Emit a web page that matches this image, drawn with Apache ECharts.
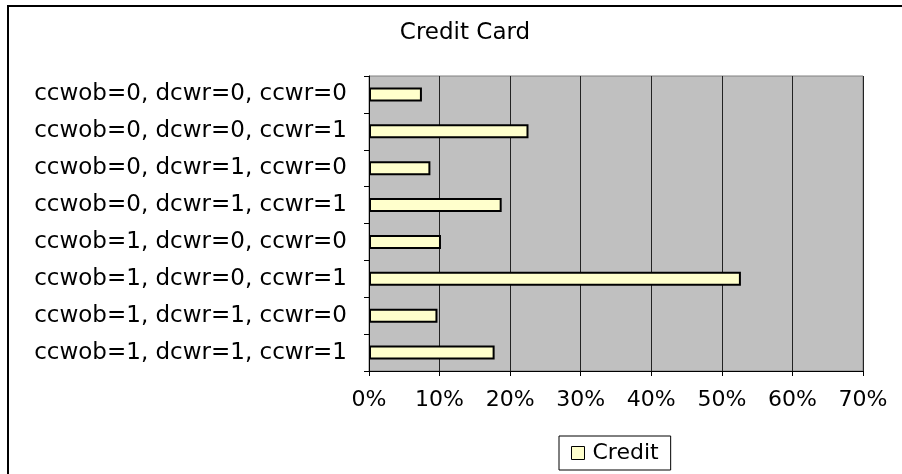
<!DOCTYPE html>
<html>
<head>
<meta charset="utf-8">
<script src="https://cdn.jsdelivr.net/npm/echarts@6/dist/echarts.min.js"></script>
<style>
  html, body { margin: 0; padding: 0; background: #fff; }
  #chart { width: 902px; height: 474px; }
</style>
</head>
<body>
<div id="chart"></div>
<script>
// 数据
var categories = [
  'ccwob=0, dcwr=0, ccwr=0',
  'ccwob=0, dcwr=0, ccwr=1',
  'ccwob=0, dcwr=1, ccwr=0',
  'ccwob=0, dcwr=1, ccwr=1',
  'ccwob=1, dcwr=0, ccwr=0',
  'ccwob=1, dcwr=0, ccwr=1',
  'ccwob=1, dcwr=1, ccwr=0',
  'ccwob=1, dcwr=1, ccwr=1'
];
var creditValues = [7.5, 22.6, 8.7, 18.8, 10.2, 52.7, 9.7, 17.8];
var seriesName = 'Credit';
var titleText = 'Credit Card';

var font = 'DejaVu Sans';
var myChart = echarts.init(document.getElementById('chart'));

var option = {
  backgroundColor: '#fff',
  animation: false,
  textStyle: { fontFamily: font },
  title: {
    text: titleText,
    left: 460,
    top: 17,
    textAlign: 'center',
    textStyle: { fontFamily: font, fontSize: 23, fontWeight: 'normal', color: '#000' }
  },
  legend: {
    data: [seriesName],
    left: 559,
    top: 436,
    padding: [6, 12],
    borderColor: '#000',
    borderWidth: 1,
    icon: 'rect',
    itemWidth: 13,
    itemHeight: 13,
    itemStyle: { borderColor: '#000', borderWidth: 1 },
    textStyle: { fontFamily: font, fontSize: 22, color: '#000', padding: [0, 0, 0, 3] }
  },
  graphic: [{
    type: 'rect',
    shape: { x: 8, y: 6, width: 1000, height: 1000 },
    style: { fill: 'none', stroke: '#000', lineWidth: 2 },
    silent: true
  }],
  grid: {
    left: 369,
    right: 39,
    top: 76,
    bottom: 103,
    show: true,
    backgroundColor: '#c0c0c0',
    borderColor: '#808080',
    borderWidth: 1
  },
  xAxis: {
    type: 'value',
    min: 0,
    max: 70,
    interval: 10,
    axisLine: { show: true, lineStyle: { color: '#000', width: 1 } },
    axisTick: { show: true, length: 5, lineStyle: { color: '#000' } },
    axisLabel: {
      formatter: '{value}%',
      margin: 18,
      fontFamily: font,
      fontSize: 22,
      color: '#000'
    },
    splitLine: { show: true, lineStyle: { color: '#222', width: 1 } }
  },
  yAxis: {
    type: 'category',
    data: categories,
    inverse: true,
    axisLine: { show: true, lineStyle: { color: '#000', width: 1 } },
    axisTick: { show: true, length: 5, lineStyle: { color: '#000' } },
    axisLabel: {
      margin: 22,
      fontFamily: font,
      fontSize: 23,
      color: '#000'
    },
    splitLine: { show: false }
  },
  series: [{
    name: seriesName,
    type: 'bar',
    data: creditValues,
    barWidth: 14,
    itemStyle: { color: '#ffffcc', borderColor: '#000', borderWidth: 2 }
  }]
};
myChart.setOption(option);
</script>
</body>
</html>
